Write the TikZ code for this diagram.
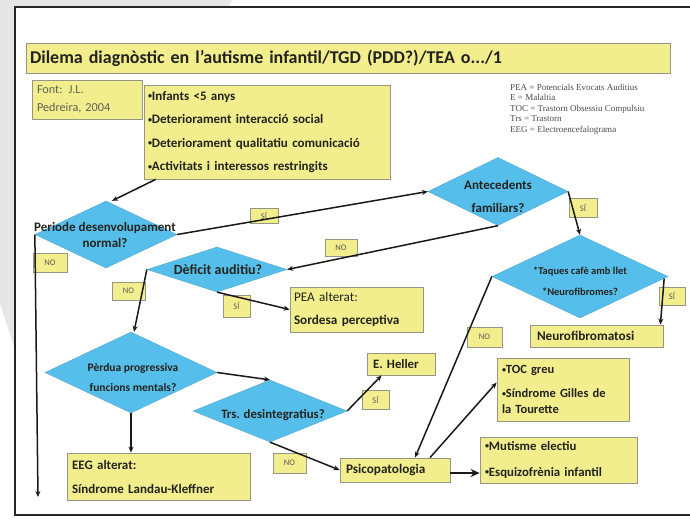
\documentclass[tikz,border=0pt]{standalone}
\usepackage{fontspec}
\setmainfont{Carlito}
\newfontfamily\legfont{Liberation Serif}
\usetikzlibrary{shapes.geometric,arrows.meta,calc}
\definecolor{yel}{RGB}{242,238,142}
\definecolor{ybord}{RGB}{150,150,135}
\definecolor{dblue}{RGB}{86,190,234}
\definecolor{txt}{RGB}{35,35,30}
\definecolor{labtxt}{RGB}{90,90,80}
\definecolor{fonttxt}{RGB}{95,95,85}
\definecolor{bggray}{RGB}{230,230,230}
\newcommand{\bul}{\raisebox{0.12em}{\fontsize{8}{8}\selectfont•}}
\begin{document}
\begin{tikzpicture}[x=1pt,y=-1pt,
  ybox/.style={draw=ybord, fill=yel, line width=0.8pt, inner ysep=0pt, inner xsep=5pt, text=txt, align=left, font=\bfseries\fontsize{11.5}{14}\selectfont},
  lab/.style={draw=ybord, fill=yel, line width=0.7pt, inner sep=0pt, text=labtxt, font=\fontsize{8.5}{9}\selectfont},
  dia/.style={diamond, fill=dblue, draw=dblue!85!black, line width=0.3pt, inner sep=0pt},
  dtxt/.style={text=txt, align=center, inner sep=0pt},
  arr/.style={-{Stealth[length=6pt,width=5pt]}, line width=1.5pt, draw=black!90}]
\useasboundingbox (0,0) rectangle (690,520);
% background
\fill[bggray] (0,0) -- (232,0) -- (200,60) -- (15,350) -- (0,303) -- cycle;
\fill[white] (15,7) rectangle (700,515);
\draw[line width=2.5pt, draw=black!85] (15,7) rectangle (700,515);

% title and header boxes
\node[ybox, minimum width=644, text width=636, inner xsep=4pt, minimum height=30, font=\bfseries\fontsize{18}{20}\selectfont] (title) at (348,58) {Dilema diagnòstic en l’autisme infantil/TGD (PDD?)/TEA o.../1};
\node[ybox, minimum width=110, text width=100, minimum height=39, text=fonttxt, font=\fontsize{12.2}{18}\selectfont] (fontb) at (87,99.5) {Font: J.L.\\Pedreira, 2004};
\node[ybox, minimum width=246, text width=238, inner xsep=4pt, minimum height=94, font=\bfseries\fontsize{13}{23.5}\selectfont] (crit) at (267,132) {\bul Infants <5 anys\\\bul Deteriorament interacció social\\\bul Deteriorament qualitatiu comunicació\\\bul Activitats i interessos restringits};
\node[anchor=north west, inner sep=0pt, align=left, text=black!70, font=\legfont\fontsize{9}{10.5}\selectfont] (legend) at (510,84) {PEA = Potencials Evocats Auditius\\E = Malaltia\\TOC = Trastorn Obsessiu Compulsiu\\Trs = Trastorn\\EEG = Electroencefalograma};

% diamonds
\node[dia, minimum width=142, minimum height=67] (per) at (106,234.5) {};
\node[dtxt, font=\bfseries\fontsize{13}{16}\selectfont] (tper) at (105,235) {Periode desenvolupament\\normal?};
\node[dia, minimum width=140, minimum height=68] (ant) at (498,191.5) {};
\node[dtxt, font=\bfseries\fontsize{13}{23}\selectfont] (tant) at (498,196.5) {Antecedents\\familiars?};
\node[dia, minimum width=140, minimum height=45] (def) at (217,269.5) {};
\node[dtxt, font=\bfseries\fontsize{14}{14}\selectfont] (tdef) at (218,270) {Dèficit auditiu?};
\node[dia, minimum width=176, minimum height=83] (tq) at (580,276.5) {};
\node[dtxt, font=\bfseries\fontsize{10.5}{21}\selectfont] (ttq) at (580,281.5) {*Taques cafè amb llet\\*Neurofibromes?};
\node[dia, minimum width=172, minimum height=81] (pd) at (131,372.5) {};
\node[dtxt, font=\bfseries\fontsize{11.5}{20}\selectfont] (tpd) at (133,377) {Pèrdua progressiva\\funcions mentals?};
\node[dia, minimum width=154, minimum height=62] (trs) at (270,411) {};
\node[dtxt, font=\bfseries\fontsize{12.8}{13}\selectfont] (ttrs) at (273,415) {Trs. desintegratius?};

% result boxes
\node[ybox, minimum width=133, text width=125, inner xsep=4pt, minimum height=45, font=\fontsize{13.2}{23}\selectfont] (pea) at (356.5,309.5) {PEA alterat:\\\textbf{Sordesa perceptiva}};
\node[ybox, minimum width=133, text width=119, inner xsep=7pt, minimum height=22, font=\bfseries\fontsize{13.2}{14}\selectfont] (neuro) at (596.5,336) {Neurofibromatosi};
\node[ybox, minimum width=68, text width=56, inner xsep=6pt, minimum height=22, font=\bfseries\fontsize{12.8}{14}\selectfont] (heller) at (401,364) {E. Heller};
\node[ybox, minimum width=132, text width=122, inner xsep=5pt, minimum height=63, font=\bfseries\fontsize{12.5}{16}\selectfont] (toc) at (563,389.5) {\bul TOC greu\\[8pt]\bul Síndrome Gilles de\\la Tourette};
\node[ybox, minimum width=110, text width=98, inner xsep=6pt, minimum height=24, font=\bfseries\fontsize{13.2}{14}\selectfont] (psico) at (395,470) {Psicopatologia};
\node[ybox, minimum width=157, text width=147, inner xsep=5pt, minimum height=46, font=\bfseries\fontsize{12.8}{26}\selectfont] (mut) at (558.5,460) {\bul Mutisme electiu\\\bul Esquizofrènia infantil};
\node[ybox, minimum width=183, text width=173, minimum height=47, font=\bfseries\fontsize{13}{24}\selectfont] (eeg) at (158.5,476.5) {EEG alterat:\\Síndrome Landau-Kleffner};

% yes / no labels
\node[lab, minimum width=28, minimum height=15] (l1) at (264,215.5) {SÍ};
\node[lab, minimum width=34, minimum height=19] (l2) at (50,262.5) {NO};
\node[lab, minimum width=32, minimum height=17] (l3) at (341,247.5) {NO};
\node[lab, minimum width=28, minimum height=19] (l4) at (583,207.5) {SÍ};
\node[lab, minimum width=26, minimum height=18] (l5) at (672,296) {SÍ};
\node[lab, minimum width=35, minimum height=20] (l6) at (484.5,337) {NO};
\node[lab, minimum width=27, minimum height=22] (l7) at (236.5,306) {SÍ};
\node[lab, minimum width=33, minimum height=18] (l8) at (128.5,291) {NO};
\node[lab, minimum width=27, minimum height=19] (l9) at (375.5,399.5) {SÍ};
\node[lab, minimum width=33, minimum height=20] (l10) at (289.5,463) {NO};

\coordinate (perEnd) at (38,497);

% connectors
\draw[arr] ($(crit.south west)+(12,0)$) -- ($(per.north)+(6,0)$);
\draw[arr] (per.east) -- (ant.west);
\draw[arr] (per.west) -- (perEnd);
\draw[arr] (ant.south) -- (def.east);
\draw[arr] (ant.east) -- (tq.north);
\draw[arr] ($(tq.east)+(-4,2)$) -- ($(neuro.north east)+(-3,0)$);
\draw[arr] (tq.west) -- ($(psico.north)+(20,0)$);
\draw[arr] (def.south) -- (pea.west);
\draw[arr] (def.west) -- ($(pd.north)+(3,0)$);
\draw[arr] (pd.south) -- (pd.south |- eeg.north);
\draw[arr] (pd.east) -- (trs.north);
\draw[arr] (trs.east) -- ($(heller.south west)+(15,0)$);
\draw[arr] (trs.south) -- (psico.west);
\draw[arr] ($(psico.north)+(35,0)$) -- ($(toc.west)+(0,-7)$);
\draw[-{Stealth[length=9pt,width=8pt]}, line width=2.5pt, draw=black!90] ($(psico.east)+(0,3)$) -- ($(psico.east -| mut.west)+(0,3)$);
\end{tikzpicture}
\end{document}
